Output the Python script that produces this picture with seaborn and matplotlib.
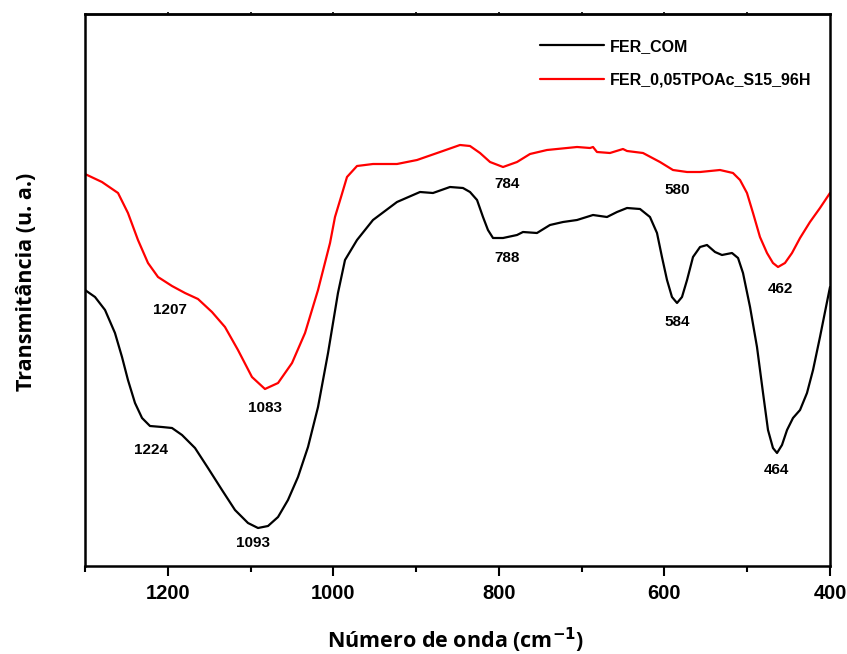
import numpy as np
import pandas as pd
import matplotlib
matplotlib.use("Agg")
import matplotlib.pyplot as plt
import seaborn as sns

# ---- data (transmittance in arbitrary units) ----
wn_com = [1300, 1287.9, 1275.8, 1263.8, 1255.3, 1248.1, 1239.6, 1231.1, 1221.5, 1207.0,
          1194.9, 1182.8, 1167.1, 1151.4, 1134.5, 1118.8, 1103.1, 1091.0, 1078.9, 1066.8,
          1054.8, 1042.7, 1030.6, 1018.5, 1006.4, 994.4, 985.9, 971.4, 952.1, 923.1,
          895.3, 879.6, 859.1, 843.4, 834.9, 826.4, 819.2, 813.2, 807.1, 795.0,
          778.1, 770.9, 754.0, 738.3, 722.5, 705.6, 686.3, 669.4, 657.3, 645.2,
          629.5, 617.5, 609.0, 603.0, 596.9, 590.9, 584.8, 578.8, 572.7, 565.5,
          557.0, 548.6, 538.9, 530.5, 518.4, 511.1, 505.1, 496.6, 488.2, 480.9,
          474.9, 468.9, 464.0, 458.0, 451.9, 444.7, 436.2, 427.8, 420.5, 412.1, 400]
t_com = [276, 269, 256, 233, 209, 186, 163, 148, 140, 139,
         138, 131, 118, 98, 76, 56, 43, 38, 40, 49,
         66, 89, 119, 159, 213, 273, 306, 326, 346, 364,
         374, 373, 379, 378, 374, 366, 349, 336, 328, 328,
         331, 334, 333, 341, 344, 346, 351, 349, 354, 358,
         357, 349, 333, 309, 286, 269, 263, 269, 286, 309,
         319, 321, 314, 311, 313, 308, 293, 259, 219, 173,
         136, 118, 113, 121, 136, 148, 156, 173, 196, 229, 279]

wn_tpo = [1300, 1279.5, 1260.1, 1248.1, 1236.0, 1223.9, 1211.8, 1194.9, 1179.2, 1163.5,
          1146.6, 1130.9, 1115.2, 1098.3, 1082.6, 1066.8, 1049.9, 1034.2, 1018.5, 1004.0,
          998.0, 990.7, 983.5, 971.4, 952.1, 923.1, 898.9, 871.1, 847.0, 834.9,
          822.8, 810.7, 795.0, 778.1, 762.4, 741.9, 705.6, 689.9, 686.3, 681.5,
          665.8, 650.1, 645.2, 625.9, 605.4, 589.7, 572.7, 557.0, 532.9, 517.2,
          508.7, 500.3, 493.0, 484.6, 476.1, 468.9, 462.8, 454.4, 445.9, 436.2,
          424.2, 412.1, 400]
t_tpo = [392, 384, 373, 353, 326, 303, 289, 280, 273, 267,
         254, 239, 216, 189, 177, 183, 203, 233, 276, 323,
         349, 369, 389, 400, 402, 402, 406, 414, 421, 420,
         413, 404, 399, 404, 412, 416, 419, 418, 419, 414,
         413, 417, 415, 413, 404, 396, 394, 394, 396, 393,
         386, 373, 353, 329, 313, 303, 299, 303, 313, 328,
         344, 358, 373]

series_names = ["FER_COM", "FER_0,05TPOAc_S15_96H"]
peak_labels = ["1224", "1093", "788", "584", "464", "1207", "1083", "784", "580", "462"]
peak_x = [1220, 1097, 790, 585, 465, 1197, 1083, 790, 584, 460]
peak_y = [116, 23, 308, 244, 96, 256, 158, 382, 376, 277]

df = pd.concat([
    pd.DataFrame({"wn": wn_com, "T": t_com, "amostra": series_names[0]}),
    pd.DataFrame({"wn": wn_tpo, "T": t_tpo, "amostra": series_names[1]}),
])

sns.set_style("ticks")
plt.rcParams["font.family"] = ["Liberation Sans", "DejaVu Sans"]
plt.rcParams["text.color"] = "black"
plt.rcParams["axes.labelcolor"] = "black"
plt.rcParams["xtick.color"] = "black"
plt.rcParams["ytick.color"] = "black"
plt.rcParams["lines.solid_joinstyle"] = "round"

fig = plt.figure(figsize=(8.47, 6.54), dpi=100)
ax = fig.add_axes([85/847, 1-566/654, 745/847, 552/654])

sns.lineplot(data=df, x="wn", y="T", hue="amostra", sort=False,
             palette={series_names[0]: "black", series_names[1]: "#ff0000"},
             linewidth=1.6, ax=ax, estimator=None)

ax.set_xlim(1300, 400)
ax.set_ylim(0, 552)
ax.set_yticks([])
ax.set_xticks([1200, 1000, 800, 600, 400])
ax.set_xticks([1300, 1100, 900, 700, 500], minor=True)
for lab in ax.get_xticklabels():
    lab.set_fontweight("bold")
    lab.set_fontsize(14.5)
    lab.set_color("black")
ax.tick_params(axis="x", which="major", direction="out", length=7, width=1.5, pad=6)
ax.tick_params(axis="x", which="minor", direction="out", length=4, width=1.5)

# tiny tick marks on the top spine
top = ax.secondary_xaxis("top")
top.set_xticks([1200, 1100, 1000, 900, 800, 700, 600, 500])
top.tick_params(axis="x", direction="out", length=1.5, width=1.2, labeltop=False)
top.spines["top"].set_linewidth(1.8)

for sp in ax.spines.values():
    sp.set_linewidth(1.8)
    sp.set_color("black")

for lab, x, y in zip(peak_labels, peak_x, peak_y):
    ax.text(x, y, lab, ha="center", va="center", fontsize=11, fontweight="bold",
            color="black")

ax.set_xlabel("Número de onda (cm$^{\\mathbf{-1}}$)", fontsize=15.5, fontweight="bold",
              family=["Open Sans", "DejaVu Sans"], color="black")
ax.xaxis.set_label_coords(0.497, -0.108)
ax.set_ylabel("Transmitância (u. a.)", fontsize=15.5, fontweight="bold",
              family=["Open Sans", "DejaVu Sans"], color="black")
ax.yaxis.set_label_coords(-0.064, 0.514)

leg = ax.legend(loc="upper left", bbox_to_anchor=(0.611, 0.955), frameon=False,
                handlelength=4, handletextpad=0.35, labelspacing=1.15,
                borderpad=0, borderaxespad=0, prop={"weight": "bold", "size": 11.5})
for t in leg.get_texts():
    t.set_color("black")

fig.savefig("out.png", dpi=100)
